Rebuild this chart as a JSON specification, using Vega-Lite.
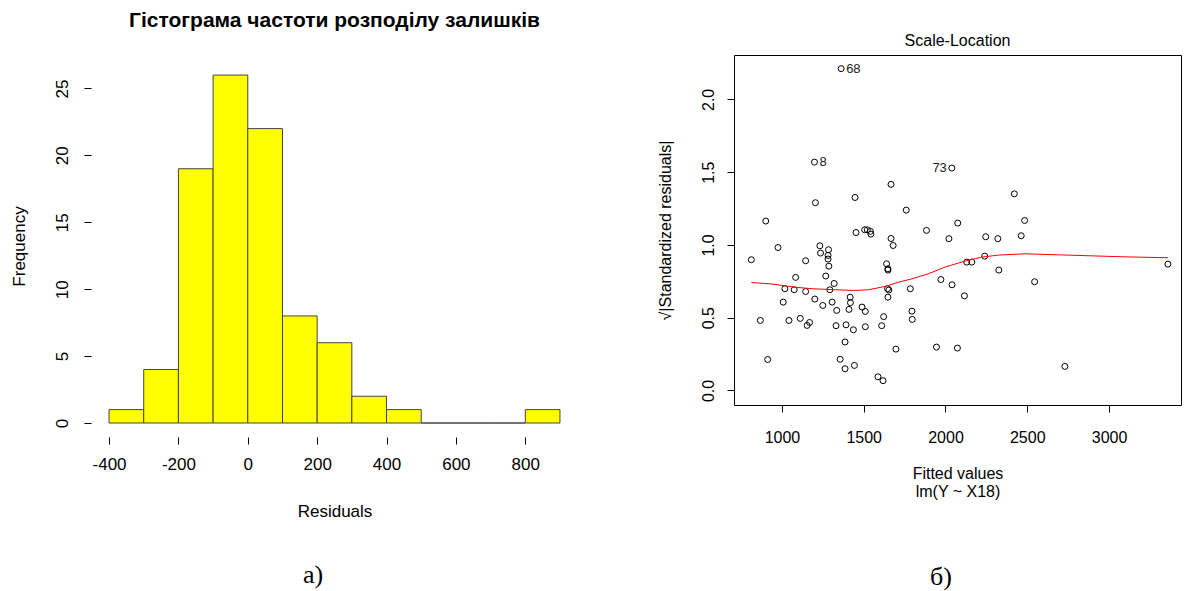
{
  "$schema": "https://vega.github.io/schema/vega-lite/v6.json",
  "background": "white",
  "padding": {"left": 10, "top": 10, "right": 0, "bottom": 0},
  "config": {
    "font": "Liberation Sans",
    "view": {"stroke": null},
    "axis": {"grid": false, "domain": false, "tickColor": "#000", "labelColor": "#000", "titleColor": "#000", "titleFontWeight": "normal", "labelFont": "Liberation Sans", "titleFont": "Liberation Sans", "tickSize": 7},
    "title": {"font": "Liberation Sans", "color": "#000"}
  },
  "datasets": {
    "hist": [
      {"bin_start": -400, "bin_end": -300, "count": 1},
      {"bin_start": -300, "bin_end": -200, "count": 4},
      {"bin_start": -200, "bin_end": -100, "count": 19},
      {"bin_start": -100, "bin_end": 0, "count": 26},
      {"bin_start": 0, "bin_end": 100, "count": 22},
      {"bin_start": 100, "bin_end": 200, "count": 8},
      {"bin_start": 200, "bin_end": 300, "count": 6},
      {"bin_start": 300, "bin_end": 400, "count": 2},
      {"bin_start": 400, "bin_end": 500, "count": 1},
      {"bin_start": 500, "bin_end": 600, "count": 0},
      {"bin_start": 600, "bin_end": 700, "count": 0},
      {"bin_start": 700, "bin_end": 800, "count": 0},
      {"bin_start": 800, "bin_end": 900, "count": 1}
    ],
    "points": [
      {"fitted": 1362, "resid": 2.211, "id": 68},
      {"fitted": 1199, "resid": 1.569, "id": 8},
      {"fitted": 2039, "resid": 1.528, "id": 73},
      {"fitted": 1667, "resid": 1.416},
      {"fitted": 1447, "resid": 1.326},
      {"fitted": 1205, "resid": 1.290},
      {"fitted": 1760, "resid": 1.239},
      {"fitted": 901, "resid": 1.164},
      {"fitted": 2075, "resid": 1.150},
      {"fitted": 1453, "resid": 1.085},
      {"fitted": 1506, "resid": 1.104},
      {"fitted": 1522, "resid": 1.104},
      {"fitted": 1541, "resid": 1.093},
      {"fitted": 1544, "resid": 1.074},
      {"fitted": 1884, "resid": 1.100},
      {"fitted": 1667, "resid": 1.044},
      {"fitted": 1680, "resid": 0.996},
      {"fitted": 2021, "resid": 1.043},
      {"fitted": 976, "resid": 0.982},
      {"fitted": 1232, "resid": 0.994},
      {"fitted": 1285, "resid": 0.967},
      {"fitted": 1236, "resid": 0.944},
      {"fitted": 1282, "resid": 0.928},
      {"fitted": 1282, "resid": 0.903},
      {"fitted": 1287, "resid": 0.854},
      {"fitted": 813, "resid": 0.898},
      {"fitted": 1145, "resid": 0.891},
      {"fitted": 1084, "resid": 0.777},
      {"fitted": 1268, "resid": 0.786},
      {"fitted": 1319, "resid": 0.735},
      {"fitted": 1018, "resid": 0.699},
      {"fitted": 1075, "resid": 0.692},
      {"fitted": 1145, "resid": 0.680},
      {"fitted": 1293, "resid": 0.692},
      {"fitted": 1008, "resid": 0.607},
      {"fitted": 1201, "resid": 0.628},
      {"fitted": 1250, "resid": 0.584},
      {"fitted": 1307, "resid": 0.607},
      {"fitted": 1335, "resid": 0.550},
      {"fitted": 1417, "resid": 0.641},
      {"fitted": 1419, "resid": 0.603},
      {"fitted": 1410, "resid": 0.557},
      {"fitted": 1490, "resid": 0.573},
      {"fitted": 1510, "resid": 0.543},
      {"fitted": 1640, "resid": 0.870},
      {"fitted": 1648, "resid": 0.836},
      {"fitted": 1648, "resid": 0.827},
      {"fitted": 1646, "resid": 0.699},
      {"fitted": 1654, "resid": 0.690},
      {"fitted": 1648, "resid": 0.641},
      {"fitted": 1785, "resid": 0.699},
      {"fitted": 1795, "resid": 0.545},
      {"fitted": 1797, "resid": 0.488},
      {"fitted": 1972, "resid": 0.762},
      {"fitted": 2040, "resid": 0.726},
      {"fitted": 868, "resid": 0.481},
      {"fitted": 1043, "resid": 0.481},
      {"fitted": 1112, "resid": 0.495},
      {"fitted": 1169, "resid": 0.467},
      {"fitted": 1154, "resid": 0.447},
      {"fitted": 1331, "resid": 0.445},
      {"fitted": 1392, "resid": 0.451},
      {"fitted": 1437, "resid": 0.417},
      {"fitted": 1510, "resid": 0.438},
      {"fitted": 1622, "resid": 0.507},
      {"fitted": 1610, "resid": 0.445},
      {"fitted": 1386, "resid": 0.333},
      {"fitted": 1697, "resid": 0.284},
      {"fitted": 1945, "resid": 0.298},
      {"fitted": 2073, "resid": 0.291},
      {"fitted": 913, "resid": 0.213},
      {"fitted": 1356, "resid": 0.214},
      {"fitted": 1443, "resid": 0.172},
      {"fitted": 1386, "resid": 0.149},
      {"fitted": 1587, "resid": 0.094},
      {"fitted": 1618, "resid": 0.067},
      {"fitted": 2421, "resid": 1.351},
      {"fitted": 2484, "resid": 1.168},
      {"fitted": 2246, "resid": 1.056},
      {"fitted": 2320, "resid": 1.043},
      {"fitted": 2463, "resid": 1.063},
      {"fitted": 2130, "resid": 0.882},
      {"fitted": 2161, "resid": 0.882},
      {"fitted": 2240, "resid": 0.923},
      {"fitted": 2326, "resid": 0.827},
      {"fitted": 2116, "resid": 0.650},
      {"fitted": 2545, "resid": 0.747},
      {"fitted": 2730, "resid": 0.165},
      {"fitted": 3360, "resid": 0.868}
    ],
    "smooth": [
      {"fitted": 813, "resid": 0.742},
      {"fitted": 942, "resid": 0.731},
      {"fitted": 1073, "resid": 0.710},
      {"fitted": 1185, "resid": 0.699},
      {"fitted": 1327, "resid": 0.692},
      {"fitted": 1439, "resid": 0.687},
      {"fitted": 1530, "resid": 0.692},
      {"fitted": 1632, "resid": 0.715},
      {"fitted": 1713, "resid": 0.744},
      {"fitted": 1795, "resid": 0.767},
      {"fitted": 1896, "resid": 0.802},
      {"fitted": 1998, "resid": 0.848},
      {"fitted": 2120, "resid": 0.889},
      {"fitted": 2221, "resid": 0.916},
      {"fitted": 2323, "resid": 0.930},
      {"fitted": 2486, "resid": 0.939},
      {"fitted": 2689, "resid": 0.932},
      {"fitted": 2892, "resid": 0.925},
      {"fitted": 3096, "resid": 0.918},
      {"fitted": 3360, "resid": 0.912}
    ]
  },
  "spacing": 78,
  "hconcat": [
    {
      "title": {"text": "а)", "orient": "bottom", "anchor": "middle", "font": "Liberation Serif", "fontSize": 26, "fontWeight": "normal", "offset": 43, "dx": 19},
      "vconcat": [
        {
          "width": 487,
          "height": 382,
          "title": {"text": "Гістограма частоти розподілу залишків", "fontSize": 21, "fontWeight": "bold", "offset": 24},
          "layer": [
            {
              "data": {"name": "hist"},
              "mark": {"type": "bar", "fill": "#ffff00", "stroke": "#444", "strokeWidth": 1},
              "encoding": {
                "x": {"field": "bin_start", "type": "quantitative", "scale": {"domain": [-452, 952], "nice": false, "zero": false},
                  "axis": {"values": [-400, -200, 0, 200, 400, 600, 800], "labelExpr": "'' + datum.value", "labelFontSize": 17, "labelPadding": 12, "title": "Residuals", "titleFontSize": 17, "titlePadding": 31}},
                "x2": {"field": "bin_end"},
                "y": {"field": "count", "type": "quantitative", "scale": {"domain": [-1.046, 27.5], "nice": false, "zero": false},
                  "axis": {"values": [0, 5, 10, 15, 20, 25], "labelAngle": 270, "labelFontSize": 17, "labelPadding": 13, "title": "Frequency", "titleFontSize": 17, "titlePadding": 25}},
                "y2": {"datum": 0}
              }
            },
            {
              "mark": {"type": "rule", "color": "#000", "strokeWidth": 1},
              "encoding": {"x": {"datum": -400}, "x2": {"datum": 800}, "y": {"datum": -1.046}}
            },
            {
              "mark": {"type": "rule", "color": "#000", "strokeWidth": 1},
              "encoding": {"x": {"datum": -452}, "y": {"datum": 0}, "y2": {"datum": 25}}
            }
          ]
        }
      ]
    },
    {
      "title": {"text": "б)", "orient": "bottom", "anchor": "middle", "font": "Liberation Serif", "fontSize": 26, "fontWeight": "normal", "offset": 64, "dx": 22},
      "vconcat": [
        {
          "width": 447,
          "height": 350,
          "view": {"stroke": "#000", "strokeWidth": 1},
          "title": {"text": "Scale-Location", "fontSize": 16, "fontWeight": "normal", "offset": 6},
          "layer": [
            {
              "data": {"name": "points"},
              "mark": {"type": "point", "shape": "circle", "filled": false, "stroke": "#000", "strokeWidth": 1, "size": 36, "opacity": 1},
              "encoding": {
                "x": {"field": "fitted", "type": "quantitative", "scale": {"domain": [707, 3440], "nice": false, "zero": false},
                  "axis": {"values": [1000, 1500, 2000, 2500, 3000], "format": "d", "labelFontSize": 16, "labelPadding": 17, "title": ["Fitted values", "lm(Y ~ X18)"], "titleFontSize": 16, "titleLineHeight": 18, "titlePadding": 20}},
                "y": {"field": "resid", "type": "quantitative", "scale": {"domain": [-0.1, 2.305], "nice": false, "zero": false},
                  "axis": {"values": [0, 0.5, 1, 1.5, 2], "format": ".1f", "labelAngle": 270, "labelFontSize": 16, "labelPadding": 11, "title": "√|Standardized residuals|", "titleFontSize": 16, "titlePadding": 27}}
              }
            },
            {
              "data": {"name": "smooth"},
              "mark": {"type": "line", "color": "#ff0000", "strokeWidth": 1},
              "encoding": {"x": {"field": "fitted", "type": "quantitative"}, "y": {"field": "resid", "type": "quantitative"}}
            },
            {
              "data": {"name": "points"},
              "transform": [{"filter": "datum.id == 68 || datum.id == 8"}],
              "mark": {"type": "text", "align": "left", "baseline": "middle", "dx": 5, "fontSize": 13, "color": "#222"},
              "encoding": {"x": {"field": "fitted", "type": "quantitative"}, "y": {"field": "resid", "type": "quantitative"}, "text": {"field": "id"}}
            },
            {
              "data": {"name": "points"},
              "transform": [{"filter": "datum.id == 73"}],
              "mark": {"type": "text", "align": "right", "baseline": "middle", "dx": -5, "fontSize": 13, "color": "#222"},
              "encoding": {"x": {"field": "fitted", "type": "quantitative"}, "y": {"field": "resid", "type": "quantitative"}, "text": {"field": "id"}}
            }
          ]
        }
      ]
    }
  ]
}
